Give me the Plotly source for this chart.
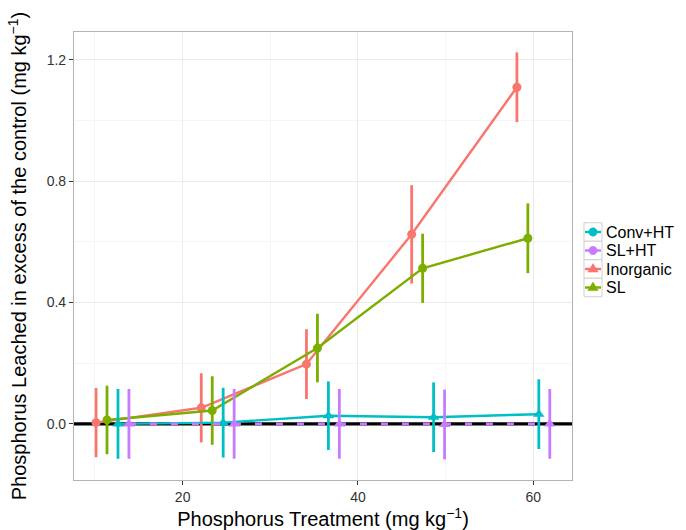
import plotly.graph_objects as go

# ---- data ----
treatments = [12, 24, 36, 48, 60]
series_names = ["Inorganic", "SL", "Conv+HT", "SL+HT"]
inorganic_mean = [0.004, 0.053, 0.197, 0.625, 1.110]
inorganic_err = [0.114, 0.114, 0.115, 0.162, 0.115]
sl_mean = [0.013, 0.044, 0.250, 0.513, 0.612]
sl_err = [0.113, 0.113, 0.113, 0.114, 0.115]
convht_mean = [0.000, 0.004, 0.027, 0.022, 0.032]
convht_err = [0.115, 0.115, 0.113, 0.115, 0.115]
slht_mean = [0.000, 0.000, 0.000, -0.002, 0.000]
slht_err = [0.115, 0.115, 0.115, 0.115, 0.115]
legend_order = ["Conv+HT", "SL+HT", "Inorganic", "SL"]
x_ticks = [20, 40, 60]
y_ticks = [0.0, 0.4, 0.8, 1.2]
x_range = [7.61, 64.41]
y_range = [-0.185, 1.292]
control_level = 0.0

colors = {"Inorganic": "#F8766D", "SL": "#7CAE00", "Conv+HT": "#00BFC4", "SL+HT": "#C77CFF"}
plot_symbol = {"Inorganic": "circle", "SL": "circle", "Conv+HT": "triangle-up", "SL+HT": "triangle-up"}
legend_symbol = {"Conv+HT": "circle", "SL+HT": "circle", "Inorganic": "triangle", "SL": "triangle"}
dodge = {"Inorganic": -1.875, "SL": -0.625, "Conv+HT": 0.625, "SL+HT": 1.875}
means = {"Inorganic": inorganic_mean, "SL": sl_mean, "Conv+HT": convht_mean, "SL+HT": slht_mean}
errs = {"Inorganic": inorganic_err, "SL": sl_err, "Conv+HT": convht_err, "SL+HT": slht_err}

FONT = "Liberation Sans, Arial, sans-serif"

fig = go.Figure()
# control reference line (black, across the whole panel)
fig.add_trace(go.Scatter(x=x_range, y=[control_level, control_level], mode="lines",
                         line=dict(color="black", width=3.2), showlegend=False, hoverinfo="skip"))
for name in series_names:
    xs = [t + dodge[name] for t in treatments]
    is_dashed = name == "SL+HT"
    fig.add_trace(go.Scatter(
        x=xs, y=means[name], mode="lines+markers", name=name, showlegend=False,
        line=dict(color=colors[name], width=2.8 if is_dashed else 2.4,
                  dash="7px,14px" if is_dashed else "solid"),
        marker=dict(color=colors[name], symbol=plot_symbol[name],
                    size=9 if plot_symbol[name] == "circle" else 10),
        error_y=dict(type="data", array=errs[name], visible=True, color=colors[name],
                     thickness=2.8, width=0),
    ))

# plot area in pixels
L, R, T, B = 74, 572, 32, 480
W, H = 686, 530

def px(x):
    return (x - L) / (R - L)

def py(y):
    return (B - y) / (B - T)

shapes = []
annotations = []

# manual legend (ggplot-style keys)
row_centers = [232, 250.5, 269, 287.5]
kx0, kx1, kh = 584, 602, 18.5
for name, cy in zip(legend_order, row_centers):
    c = colors[name]
    shapes.append(dict(type="rect", xref="paper", yref="paper",
                       x0=px(kx0), x1=px(kx1), y0=py(cy + kh / 2), y1=py(cy - kh / 2),
                       line=dict(color="#d0d0d0", width=1), fillcolor="white"))
    shapes.append(dict(type="line", xref="paper", yref="paper",
                       x0=px(kx0 + 1), x1=px(kx1 - 1), y0=py(cy), y1=py(cy),
                       line=dict(color=c, width=2.4)))
    mx = (kx0 + kx1) / 2
    if legend_symbol[name] == "circle":
        r = 4.2
        shapes.append(dict(type="circle", xref="paper", yref="paper",
                           x0=px(mx - r), x1=px(mx + r), y0=py(cy + r), y1=py(cy - r),
                           fillcolor=c, line=dict(color=c, width=0.5)))
    else:
        s = 5.2
        path = "M {:.5f},{:.5f} L {:.5f},{:.5f} L {:.5f},{:.5f} Z".format(
            px(mx - s), py(cy + s * 0.6), px(mx + s), py(cy + s * 0.6), px(mx), py(cy - s * 1.05))
        shapes.append(dict(type="path", xref="paper", yref="paper", path=path,
                           fillcolor=c, line=dict(color=c, width=0.5)))
    annotations.append(dict(text=name, xref="paper", yref="paper", x=px(604), y=py(cy),
                            xanchor="left", yanchor="middle", showarrow=False,
                            font=dict(family=FONT, size=16, color="black")))

axis_common = dict(
    showline=True, mirror=True, linecolor="#b3b3b3", linewidth=1.2,
    ticks="outside", ticklen=4, tickcolor="#333333", tickwidth=1,
    tickfont=dict(family=FONT, size=14, color="#333333"),
    gridcolor="#ebebeb", gridwidth=1, zeroline=False, automargin=False,
)

fig.update_layout(
    width=W, height=H,
    margin=dict(l=L, r=W - R, t=T, b=H - B, autoexpand=False),
    paper_bgcolor="white", plot_bgcolor="white",
    showlegend=False,
    shapes=shapes, annotations=annotations,
    font=dict(family=FONT),
    xaxis=dict(axis_common, range=x_range, tickvals=x_ticks,
               minor=dict(tickvals=[10, 30, 50], showgrid=True, gridcolor="#f5f5f5", gridwidth=0.8, ticks=""),
               title=dict(text="Phosphorus Treatment (mg kg<sup>−1</sup>)",
                          font=dict(family=FONT, size=20, color="black"), standoff=5)),
    yaxis=dict(axis_common, range=y_range, tickvals=y_ticks, tickformat=".1f",
               minor=dict(tickvals=[-0.2, 0.2, 0.6, 1.0], showgrid=True, gridcolor="#f5f5f5", gridwidth=0.8, ticks=""),
               title=dict(text="Phosphorus Leached in excess of the control (mg kg<sup>−1</sup>)",
                          font=dict(family=FONT, size=20, color="black"), standoff=14)),
)

fig.write_html("out.html")
